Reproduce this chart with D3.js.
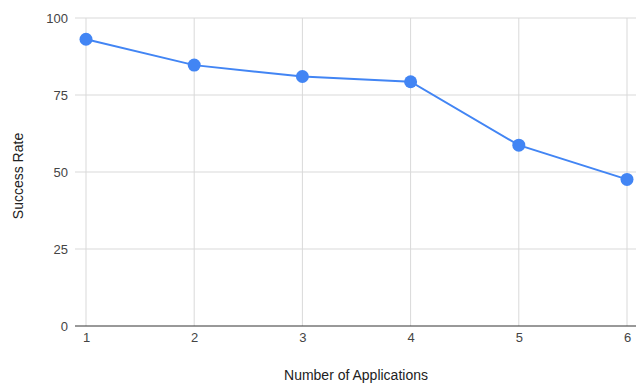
<!DOCTYPE html>
<html>
<head>
<meta charset="utf-8">
<script src="https://cdn.jsdelivr.net/npm/d3@7"></script>
<style>
  html, body { margin: 0; padding: 0; background: #fff; }
  svg { display: block; font-family: "Liberation Sans", Arial, sans-serif; }
</style>
</head>
<body>
<svg id="chart" width="636" height="383"></svg>
<script>
// Success rate by number of applications
const applications = [1, 2, 3, 4, 5, 6];
const successRate = [93.1, 84.7, 81.0, 79.3, 58.7, 47.6];
const yTicks = [0, 25, 50, 75, 100];

const width = 636, height = 383;
const plot = { left: 75, right: 636, top: 18, bottom: 326 };

const svg = d3.select("#chart");

const x = d3.scaleLinear().domain([1, 6]).range([86, 627]);
const y = d3.scaleLinear().domain([0, 100]).range([plot.bottom, plot.top]);

// horizontal gridlines
svg.append("g")
  .selectAll("line")
  .data(yTicks.filter(d => d !== 0))
  .join("line")
  .attr("x1", plot.left).attr("x2", plot.right)
  .attr("y1", d => y(d)).attr("y2", d => y(d))
  .attr("stroke", "#d9d9d9").attr("stroke-width", 1);

// vertical gridlines
svg.append("g")
  .selectAll("line")
  .data(applications)
  .join("line")
  .attr("x1", d => x(d)).attr("x2", d => x(d))
  .attr("y1", plot.top).attr("y2", plot.bottom)
  .attr("stroke", "#d9d9d9").attr("stroke-width", 1);

// baseline
svg.append("line")
  .attr("x1", plot.left).attr("x2", plot.right)
  .attr("y1", y(0)).attr("y2", y(0))
  .attr("stroke", "#333").attr("stroke-width", 1);

// y tick labels
const yAxis = d3.axisLeft(y).tickValues(yTicks).tickSize(0).tickPadding(0);
const gy = svg.append("g").attr("transform", `translate(68,0)`).call(yAxis);
gy.select(".domain").remove();
gy.selectAll("text").attr("font-size", 13).attr("fill", "#444")
  .attr("font-family", "Liberation Sans, Arial, sans-serif");

// x tick labels
const xAxis = d3.axisBottom(x).tickValues(applications).tickFormat(d3.format("d")).tickSize(0).tickPadding(0);
const gx = svg.append("g").attr("transform", `translate(0,333)`).call(xAxis);
gx.select(".domain").remove();
gx.selectAll("text").attr("font-size", 13).attr("fill", "#444")
  .attr("font-family", "Liberation Sans, Arial, sans-serif");

// axis titles
svg.append("text")
  .attr("x", 356).attr("y", 380)
  .attr("text-anchor", "middle")
  .attr("font-size", 14).attr("fill", "#222")
  .text("Number of Applications");

svg.append("text")
  .attr("transform", `translate(23,176) rotate(-90)`)
  .attr("text-anchor", "middle")
  .attr("font-size", 14).attr("fill", "#222")
  .text("Success Rate");

// series line
const data = applications.map((a, i) => ({ a, v: successRate[i] }));
svg.append("path")
  .datum(data)
  .attr("fill", "none")
  .attr("stroke", "#4285f4")
  .attr("stroke-width", 2)
  .attr("d", d3.line().x(d => x(d.a)).y(d => y(d.v)));

// points
svg.append("g")
  .selectAll("circle")
  .data(data)
  .join("circle")
  .attr("cx", d => x(d.a)).attr("cy", d => y(d.v))
  .attr("r", 6.5)
  .attr("fill", "#4285f4");
</script>
</body>
</html>
